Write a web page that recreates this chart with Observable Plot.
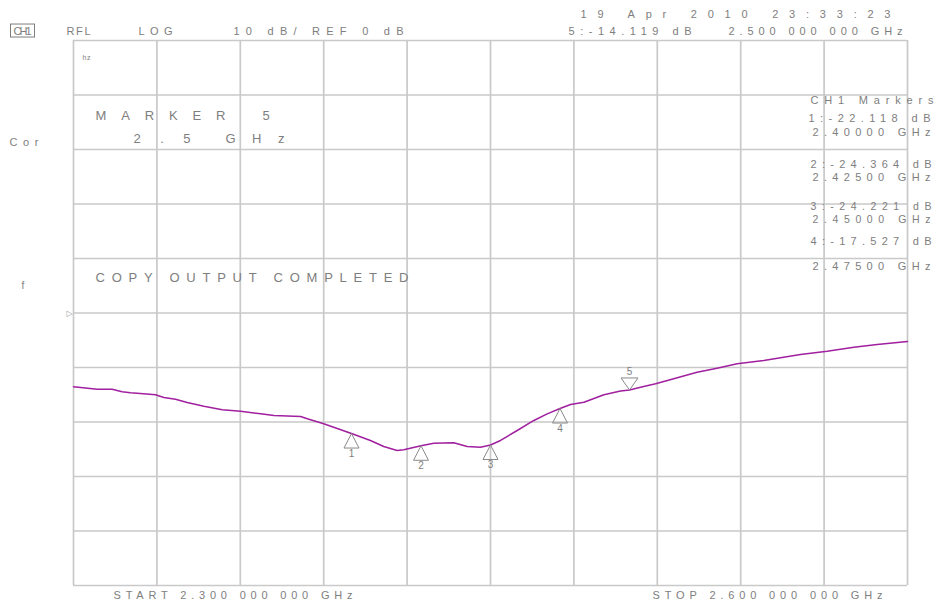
<!DOCTYPE html>
<html>
<head>
<meta charset="utf-8">
<script src="https://cdn.jsdelivr.net/npm/d3@7"></script>
<script src="https://cdn.jsdelivr.net/npm/@observablehq/plot@0.6"></script>
<style>
  html, body { margin: 0; padding: 0; background: #fff; }
  #chart svg { display: block; }
</style>
</head>
<body>
<div id="chart"></div>
<script>
// ---- data ----
const freqGHz = [2.300, 2.3085, 2.3139, 2.3175, 2.3205, 2.3252, 2.3295, 2.3325, 2.3367, 2.3409,
  2.3469, 2.3535, 2.3601, 2.3673, 2.3721, 2.3817, 2.3841, 2.3900, 2.4000, 2.4068,
  2.4116, 2.4164, 2.4188, 2.4250, 2.4296, 2.4368, 2.4416, 2.4464, 2.4500, 2.4536,
  2.4596, 2.4656, 2.4704, 2.4750, 2.4788, 2.4836, 2.4908, 2.4968, 2.5000, 2.5051,
  2.5094, 2.5159, 2.5243, 2.5315, 2.5387, 2.5483, 2.5615, 2.5711, 2.5807, 2.5891, 2.6000];
const returnLossDb = [-13.54, -13.98, -13.98, -14.46, -14.64, -14.83, -15.01, -15.50, -15.82, -16.42,
  -17.10, -17.76, -18.02, -18.50, -18.81, -18.99, -19.41, -20.33, -22.12, -23.39,
  -24.50, -25.23, -25.10, -24.36, -23.89, -23.82, -24.50, -24.62, -24.22, -23.39,
  -21.56, -19.72, -18.50, -17.53, -16.79, -16.37, -15.01, -14.31, -14.12, -13.49,
  -12.99, -12.07, -10.86, -10.13, -9.32, -8.72, -7.61, -7.01, -6.28, -5.78, -5.23];

const markerNames = ["1", "2", "3", "4", "5"];
const markerFreq = [2.400, 2.425, 2.450, 2.475, 2.500];
const markerDb = [-22.118, -24.364, -24.221, -17.527, -14.119];

const freqTicks = [2.30, 2.33, 2.36, 2.39, 2.42, 2.45, 2.48, 2.51, 2.54, 2.57, 2.60];
const dbTicks = [-50, -40, -30, -20, -10, 0, 10, 20, 30, 40, 50];
const refLevelDb = [0];

// ---- layout ----
const W = 935, H = 607, mL = 73, mR = 28, mT = 40, mB = 22;
const gridColor = "#c9c9c9", traceColor = "#a0209f", inkColor = "#7e7e7e";

const trace = freqGHz.map((f, i) => ({f, db: returnLossDb[i]}));
const markers = markerFreq.map((f, i) => ({f, db: markerDb[i], name: markerNames[i]}));
const lowerMarkers = markers.slice(0, 4);
const activeMarker = markers.slice(4);

const fmtDb = v => `${v.toFixed(3)} dB`;
const fmtGHz = v => `${v.toFixed(5)} GHz`;

// annotation text with its place on the instrument screen (absolute px, vertical centre)
const annotations = [
  {t: "CH1", x: 13, y: 31, w: 18, s: 11},
  {t: "RFL", x: 66, y: 31, w: 24, s: 11},
  {t: "LOG", x: 138, y: 31, w: 34, s: 11},
  {t: "10 dB/ REF 0 dB", x: 233, y: 31, w: 170, s: 11},
  {t: "19 Apr 2010 23:33:23", x: 580, y: 14, w: 310, s: 11},
  {t: `5:${fmtDb(markerDb[4])}`, x: 568, y: 31, w: 123, s: 11},
  {t: "2.500 000 000 GHz", x: 728, y: 31, w: 174, s: 11},
  {t: "MARKER", x: 95, y: 115, w: 130, s: 13},
  {t: "5", x: 262, y: 115, s: 13},
  {t: "2.5", x: 133, y: 138, w: 57, s: 13},
  {t: "GHz", x: 225, y: 138, w: 59, s: 13},
  {t: "Cor", x: 9, y: 142, w: 29, s: 11},
  {t: "f", x: 21, y: 285, s: 10},
  {t: "hz", x: 82, y: 57, w: 8, s: 7},
  {t: "COPY OUTPUT COMPLETED", x: 95, y: 277, w: 313, s: 13},
  {t: "CH1 Markers", x: 810, y: 100, w: 123, s: 11},
  {t: `1:${fmtDb(markerDb[0])}`, x: 808, y: 118, w: 122, s: 11},
  {t: fmtGHz(markerFreq[0]), x: 812, y: 132, w: 118, s: 11},
  {t: `2:${fmtDb(markerDb[1])}`, x: 810, y: 164, w: 121, s: 11},
  {t: fmtGHz(markerFreq[1]), x: 812, y: 177, w: 118, s: 11},
  {t: `3:${fmtDb(markerDb[2])}`, x: 810, y: 206, w: 121, s: 10.5},
  {t: fmtGHz(markerFreq[2]), x: 812, y: 219, w: 118, s: 10.5},
  {t: `4:${fmtDb(markerDb[3])}`, x: 810, y: 241, w: 121, s: 11},
  {t: fmtGHz(markerFreq[3]), x: 812, y: 266, w: 118, s: 11},
  {t: "START 2.300 000 000 GHz", x: 113, y: 595, w: 239, s: 11},
  {t: "STOP 2.600 000 000 GHz", x: 652, y: 595, w: 230, s: 11}
];

// marker triangle symbols: apex on the trace
const triUp = {draw(ctx) { ctx.moveTo(0, 0); ctx.lineTo(7.5, 14.5); ctx.lineTo(-7.5, 14.5); ctx.closePath(); }};
const triDown = {draw(ctx) { ctx.moveTo(0, 0); ctx.lineTo(8.5, -12); ctx.lineTo(-8.5, -12); ctx.closePath(); }};

const textMarks = annotations.map(a => Plot.text([a.t], {
  text: d => d,
  frameAnchor: "top-left",
  dx: a.x - mL,
  dy: a.y - mT,
  textAnchor: "start",
  lineAnchor: "middle",
  fontSize: a.s,
  fill: inkColor
}));

const chart = Plot.plot({
  width: W, height: H,
  marginLeft: mL, marginRight: mR, marginTop: mT, marginBottom: mB,
  x: {domain: [2.3, 2.6], axis: null},
  y: {domain: [-50, 50], axis: null},
  style: {fontFamily: "'Liberation Sans', 'DejaVu Sans', sans-serif", background: "#fff", overflow: "visible"},
  marks: [
    Plot.ruleX(freqTicks, {stroke: gridColor, strokeWidth: 1.7, strokeOpacity: 1}),
    Plot.ruleY(dbTicks, {stroke: gridColor, strokeWidth: 1.7, strokeOpacity: 1}),
    Plot.line(trace, {x: "f", y: "db", stroke: traceColor, strokeWidth: 1.5}),
    Plot.dot(lowerMarkers, {x: "f", y: "db", symbol: triUp, r: 7, stroke: "#8a8a8a", fill: "none", strokeWidth: 1}),
    Plot.dot(activeMarker, {x: "f", y: "db", symbol: triDown, r: 7, stroke: "#8a8a8a", fill: "none", strokeWidth: 1}),
    Plot.text(lowerMarkers, {x: "f", y: "db", text: "name", dy: 20, fontSize: 10, fill: inkColor}),
    Plot.text(activeMarker, {x: "f", y: "db", text: "name", dy: -18, fontSize: 10, fill: inkColor}),
    Plot.text(refLevelDb, {y: d => d, text: () => "▷", frameAnchor: "left", dx: -7, fontSize: 8, fill: "#9a9a9a"}),
    ...textMarks
  ]
});

document.getElementById("chart").appendChild(chart);

// spread instrument text to its screen width and box the channel tag
const byText = new Map(annotations.map(a => [a.t, a]));
d3.select(chart).selectAll("text").each(function() {
  const a = byText.get(this.textContent);
  if (a && a.w) {
    this.setAttribute("textLength", a.w);
    this.setAttribute("lengthAdjust", "spacing");
  }
  if (a && a.t === "CH1") {
    const b = this.getBBox();
    const ctm = this.getCTM();
    const svgCtm = chart.getCTM ? chart.getCTM() : null;
    const tx = ctm && svgCtm ? ctm.e - svgCtm.e : 0;
    const ty = ctm && svgCtm ? ctm.f - svgCtm.f : 0;
    d3.select(chart).append("rect")
      .attr("x", b.x + tx - 3).attr("y", b.y + ty - 1)
      .attr("width", b.width + 6).attr("height", b.height + 1)
      .attr("fill", "none").attr("stroke", inkColor).attr("stroke-width", 1);
  }
});
</script>
</body>
</html>
